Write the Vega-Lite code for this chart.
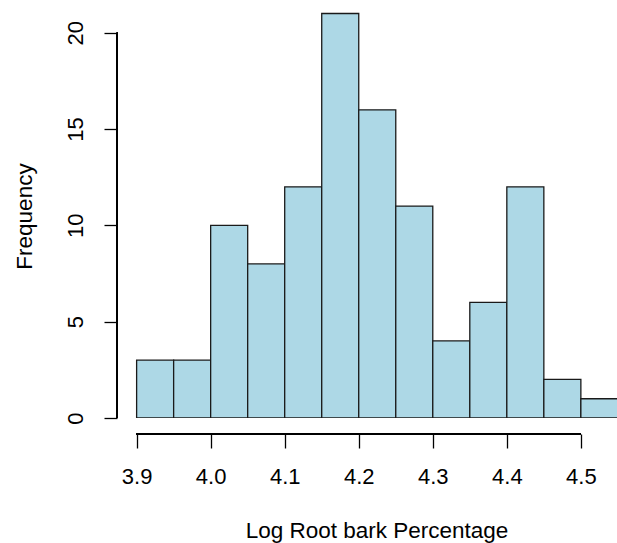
{
  "$schema": "https://vega.github.io/schema/vega-lite/v6.json",
  "width": 500,
  "height": 418,
  "autosize": "none",
  "padding": {"left": 117, "top": 0, "right": 0, "bottom": 125},
  "background": "white",
  "config": {"view": {"stroke": null}, "font": "Liberation Sans"},
  "data": {
    "values": [
      {"bin_start": 3.90, "bin_end": 3.95, "count": 3},
      {"bin_start": 3.95, "bin_end": 4.00, "count": 3},
      {"bin_start": 4.00, "bin_end": 4.05, "count": 10},
      {"bin_start": 4.05, "bin_end": 4.10, "count": 8},
      {"bin_start": 4.10, "bin_end": 4.15, "count": 12},
      {"bin_start": 4.15, "bin_end": 4.20, "count": 21},
      {"bin_start": 4.20, "bin_end": 4.25, "count": 16},
      {"bin_start": 4.25, "bin_end": 4.30, "count": 11},
      {"bin_start": 4.30, "bin_end": 4.35, "count": 4},
      {"bin_start": 4.35, "bin_end": 4.40, "count": 6},
      {"bin_start": 4.40, "bin_end": 4.45, "count": 12},
      {"bin_start": 4.45, "bin_end": 4.50, "count": 2},
      {"bin_start": 4.50, "bin_end": 4.55, "count": 1}
    ]
  },
  "layer": [
    {
      "mark": {"type": "bar", "fill": "#ADD8E6", "stroke": "#1a1a1a", "strokeWidth": 1.3, "clip": true},
      "encoding": {
        "x": {
          "field": "bin_start",
          "type": "quantitative",
          "scale": {"domain": [3.8735, 4.5488], "nice": false, "zero": false},
          "axis": {
            "values": [3.9, 4.0, 4.1, 4.2, 4.3, 4.4, 4.5],
            "format": ".1f",
            "domain": false,
            "grid": false,
            "offset": 16,
            "tickSize": 14,
            "tickColor": "black",
            "tickWidth": 1.3,
            "labelFontSize": 22,
            "labelColor": "black",
            "labelPadding": 18,
            "labelFont": "Liberation Sans",
            "title": "Log Root bark Percentage",
            "titleFont": "Liberation Sans",
            "titleFontSize": 22.5,
            "titleFontWeight": "normal",
            "titleColor": "black",
            "titleX": 259.5,
            "titleY": 103.5,
            "titleAlign": "center",
            "titleBaseline": "alphabetic"
          }
        },
        "x2": {"field": "bin_end"},
        "y": {
          "field": "count",
          "type": "quantitative",
          "scale": {"domain": [0, 21.7], "range": [418, 0], "nice": false, "zero": false},
          "axis": {
            "values": [0, 5, 10, 15, 20],
            "domain": false,
            "grid": false,
            "tickSize": 13,
            "tickColor": "black",
            "tickWidth": 1.3,
            "labelFontSize": 22,
            "labelColor": "black",
            "labelFont": "Liberation Sans",
            "labelAngle": 270,
            "labelAlign": "center",
            "labelBaseline": "alphabetic",
            "labelPadding": 22,
            "title": "Frequency",
            "titleFont": "Liberation Sans",
            "titleFontSize": 22.5,
            "titleFontWeight": "normal",
            "titleColor": "black",
            "titleAngle": 270,
            "titleX": -86,
            "titleY": 216,
            "titleAlign": "center",
            "titleBaseline": "alphabetic"
          }
        },
        "y2": {"datum": 0}
      }
    },
    {
      "mark": {"type": "rule", "color": "black", "strokeWidth": 1.3},
      "encoding": {
        "x": {"datum": 3.9, "type": "quantitative"},
        "x2": {"datum": 4.5},
        "y": {"datum": -0.83, "type": "quantitative"}
      }
    },
    {
      "mark": {"type": "rule", "color": "black", "strokeWidth": 1.3},
      "encoding": {
        "x": {"datum": 3.8738, "type": "quantitative"},
        "y": {"datum": 0, "type": "quantitative"},
        "y2": {"datum": 20}
      }
    }
  ]
}
